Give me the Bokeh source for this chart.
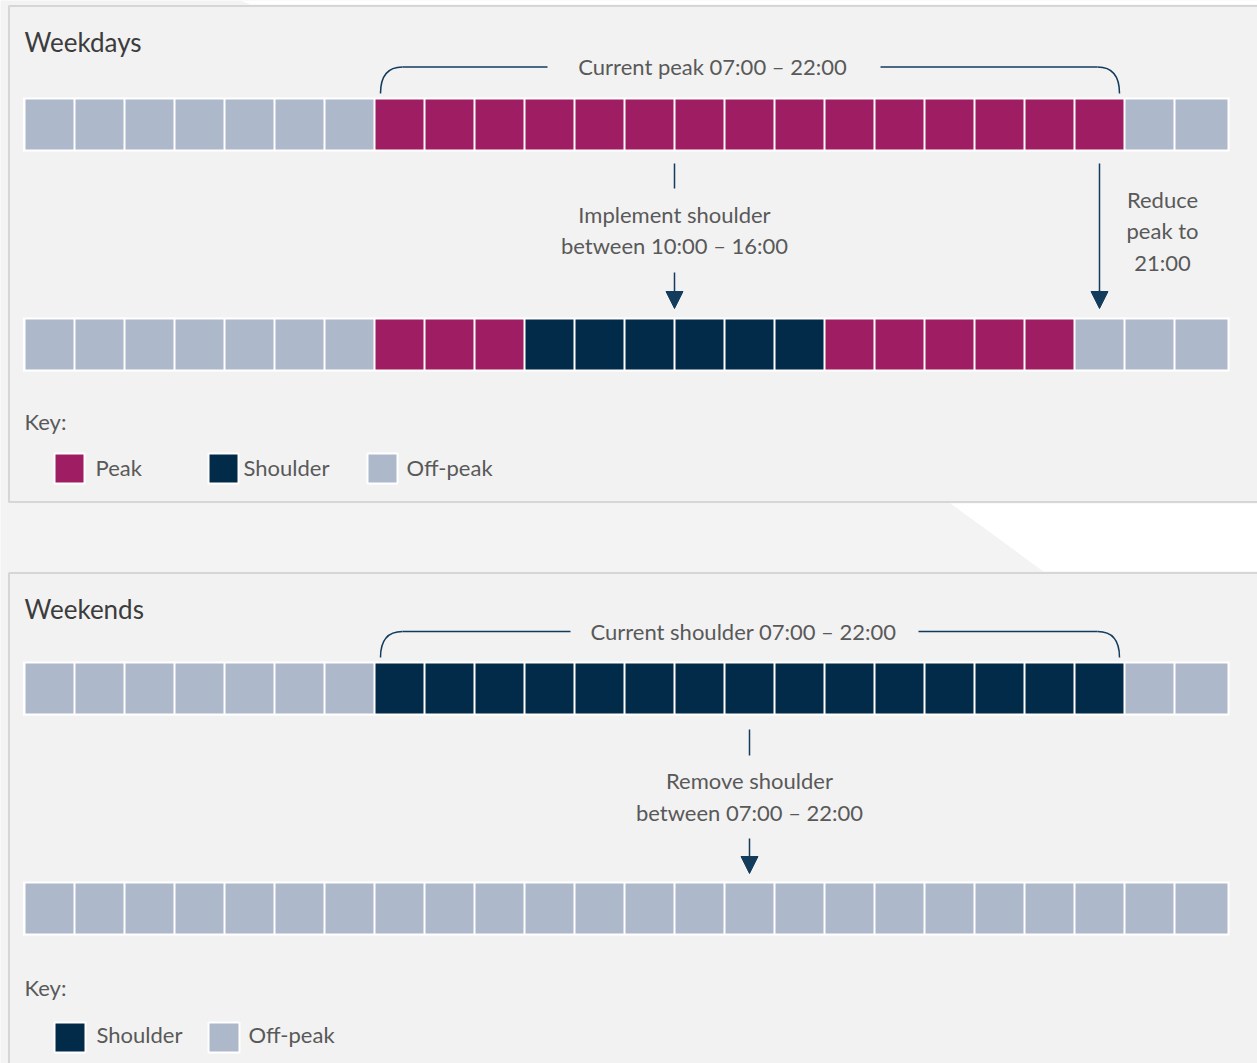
from bokeh.plotting import figure
from bokeh.models import ColumnDataSource, Range1d, Arrow, NormalHead
from bokeh.core.properties import value
from bokeh.embed import file_html
from bokeh.resources import INLINE

# ---------------- data ----------------
hours = list(range(24))
# O = off-peak, P = peak, S = shoulder (one entry per hour 00:00 .. 23:00)
weekday_current = ["O", "O", "O", "O", "O", "O", "O", "P", "P", "P", "P", "P",
                   "P", "P", "P", "P", "P", "P", "P", "P", "P", "P", "O", "O"]
weekday_proposed = ["O", "O", "O", "O", "O", "O", "O", "P", "P", "P", "S", "S",
                    "S", "S", "S", "S", "P", "P", "P", "P", "P", "O", "O", "O"]
weekend_current = ["O", "O", "O", "O", "O", "O", "O", "S", "S", "S", "S", "S",
                   "S", "S", "S", "S", "S", "S", "S", "S", "S", "S", "O", "O"]
weekend_proposed = ["O", "O", "O", "O", "O", "O", "O", "O", "O", "O", "O", "O",
                    "O", "O", "O", "O", "O", "O", "O", "O", "O", "O", "O", "O"]

state_names = {"P": "Peak", "S": "Shoulder", "O": "Off-peak"}
state_colors = {"P": "#9f1e63", "S": "#022b49", "O": "#adb8ca"}

weekday_key = ["P", "S", "O"]
weekend_key = ["S", "O"]

peak_start, peak_end = 7, 22            # current weekday peak
shoulder_start, shoulder_end = 10, 16   # proposed weekday shoulder
reduced_peak_end = 21                   # proposed weekday peak end
weekend_sh_start, weekend_sh_end = 7, 22

# ---------------- layout ----------------
W, H = 1257, 1063
CELL = 50.0    # pixels per hour
X0 = 24.0      # pixel position of hour 0
NAVY = "#123b5c"
TXT = "#595959"
TITLE = "#3c3c3c"
FONT = "Lato"
FS = 22        # annotation font size (px)
FT = 26        # title font size (px)

p = figure(width=W, height=H,
           x_range=Range1d(-X0 / CELL, (W - X0) / CELL),
           y_range=Range1d(H, 0),
           output_backend="svg", toolbar_location=None,
           x_axis_location=None, y_axis_location=None,
           min_border=0, min_border_left=0, min_border_right=0,
           min_border_top=0, min_border_bottom=0,
           outline_line_color=None,
           background_fill_color="#f3f3f3", border_fill_color="#f3f3f3")
p.extra_x_ranges = {"px": Range1d(0, W)}
p.xgrid.visible = False
p.ygrid.visible = False

# page decoration (white areas)
p.patch([240, W, W, 250], [0, 0, 4, 4], x_range_name="px",
        fill_color="white", line_color=None)
p.patch([950, W, W, 1043], [503, 503, 571, 571], x_range_name="px",
        fill_color="white", line_color=None)

# panels
p.quad(left=[8.5, 8.5], right=[W + 5, W + 5], top=[5.5, 572.5], bottom=[501.5, H + 5],
       x_range_name="px", fill_color="#f2f2f2", line_color="#d6d6d6", line_width=2)

# ---------------- rows of hourly cells ----------------
rows = [(weekday_current, 99), (weekday_proposed, 319),
        (weekend_current, 663), (weekend_proposed, 883)]
CELL_H = 50
last = hours[-1]
for states, top in rows:
    p.quad(left=[-0.03], right=[24.1], top=[top - 2], bottom=[top + CELL_H + 2],
           fill_color="white", line_color=None)
    src = ColumnDataSource(dict(
        left=[h + 0.02 for h in hours],
        right=[h + (1.06 if h == last else 0.98) for h in hours],
        top=[top] * len(hours),
        bottom=[top + CELL_H] * len(hours),
        color=[state_colors[s] for s in states],
    ))
    p.quad(left="left", right="right", top="top", bottom="bottom",
           fill_color="color", line_color=None, source=src)


def txt(x, y, s, size=FS, align="center", color=TXT, xr="default"):
    kw = {} if xr == "default" else {"x_range_name": xr}
    p.text(x=[x], y=[y - 0.42 * size], text=[s], text_font=value(FONT),
           text_font_size=f"{size}px",
           text_color=color, text_align=align, text_baseline="alphabetic", **kw)


def bracket(x_left, x_right, y_top, y_bot, gap_l, gap_r):
    r = 0.44
    p.quadratic(x0=[x_left, x_right], y0=[y_bot, y_bot],
                x1=[x_left + r, x_right - r], y1=[y_top, y_top],
                cx=[x_left, x_right], cy=[y_top, y_top],
                line_color=NAVY, line_width=1.5)
    p.segment(x0=[x_left + r, gap_r], y0=[y_top, y_top],
              x1=[gap_l, x_right - r], y1=[y_top, y_top],
              line_color=NAVY, line_width=1.5)


def arrow(x, y0, y1):
    p.add_layout(Arrow(end=NormalHead(size=17, fill_color=NAVY, line_color=NAVY),
                       x_start=x, y_start=y0, x_end=x, y_end=y1,
                       line_color=NAVY, line_width=1.5))


def tick(x, y0, y1):
    p.segment(x0=[x], y0=[y0], x1=[x], y1=[y1], line_color=NAVY, line_width=1.5)


# ---------------- weekdays panel ----------------
txt(24, 52, "Weekdays", size=FT, align="left", color=TITLE, xr="px")
bracket(peak_start + 0.12, peak_end - 0.1, 66.5, 93, 10.46, 17.12)
txt(712, 75, "Current peak 07:00 \u2013 22:00", xr="px")

mid = (shoulder_start + shoulder_end) / 2
tick(mid, 163, 188)
txt(mid, 223, "Implement shoulder")
txt(mid, 254, "between 10:00 \u2013 16:00")
arrow(mid, 272, 308)

xr_ = reduced_peak_end + 0.5
tick(xr_, 163, 300)
arrow(xr_, 290, 308)
txt(1162, 208, "Reduce", xr="px")
txt(1162, 239, "peak to", xr="px")
txt(1162, 271, "21:00", xr="px")

txt(24, 430, "Key:", align="left", xr="px")
key1_x = [54, 208, 367]
key1_lbl_x = [95, 243, 406]
p.quad(left=key1_x, right=[x + 30 for x in key1_x], top=[453] * 3, bottom=[483] * 3,
       x_range_name="px", fill_color=[state_colors[k] for k in weekday_key],
       line_color="white", line_width=2)
for lx, k in zip(key1_lbl_x, weekday_key):
    txt(lx, 476, state_names[k], align="left", xr="px")

# ---------------- weekends panel ----------------
txt(24, 619, "Weekends", size=FT, align="left", color=TITLE, xr="px")
bracket(weekend_sh_start + 0.12, weekend_sh_end - 0.1, 631, 657, 10.92, 17.88)
txt(743, 640, "Current shoulder 07:00 \u2013 22:00", xr="px")

mid2 = (weekend_sh_start + weekend_sh_end) / 2
tick(mid2, 729, 755)
txt(mid2, 789, "Remove shoulder")
txt(mid2, 821, "between 07:00 \u2013 22:00")
arrow(mid2, 838, 873)

txt(24, 996, "Key:", align="left", xr="px")
key2_x = [54, 208]
key2_lbl_x = [96, 248]
p.quad(left=key2_x, right=[x + 31 for x in key2_x], top=[1022] * 2, bottom=[1052] * 2,
       x_range_name="px", fill_color=[state_colors[k] for k in weekend_key],
       line_color="white", line_width=2)
for lx, k in zip(key2_lbl_x, weekend_key):
    txt(lx, 1043, state_names[k], align="left", xr="px")

open("out.html", "w").write(file_html(p, INLINE))
